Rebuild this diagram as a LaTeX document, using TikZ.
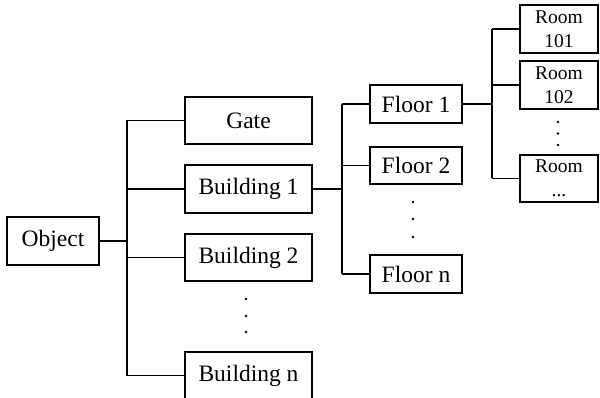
\documentclass[tikz,border=0pt]{standalone}
\usepackage{fontspec}
\setmainfont{Liberation Serif}
\begin{document}
\begin{tikzpicture}[x=1pt,y=-1pt,
  box/.style={draw,line width=1.4pt,rectangle,inner sep=0pt,font=\fontsize{23.5}{28}\selectfont},
  roombox/.style={draw,line width=1.4pt,rectangle,inner sep=0pt,align=center,font=\fontsize{19.5}{24}\selectfont,minimum width=78pt,minimum height=48pt},
  link/.style={line width=1.4pt},
  mainlink/.style={line width=2.4pt},
  dot/.style={fill=black}]
\useasboundingbox (0,0) rectangle (600,398);
% nodes
\node[box,minimum width=92pt,minimum height=48pt] (obj) at (53,241) {Object};
\node[box,minimum width=127pt,minimum height=47pt] (gate) at (248.5,120.5) {Gate};
\node[box,minimum width=127pt,minimum height=48pt] (b1) at (248.5,189) {Building 1};
\node[box,minimum width=127pt,minimum height=47pt] (b2) at (248.5,257.5) {Building 2};
\node[box,minimum width=127pt,minimum height=47pt] (bn) at (248.5,375.5) {Building n};
\node[box,minimum width=92pt,minimum height=38pt] (f1) at (416,104) {Floor 1};
\node[box,minimum width=92pt,minimum height=37pt] (f2) at (416,165.5) {Floor 2};
\node[box,minimum width=92pt,minimum height=38pt] (fn) at (416,274) {Floor n};
\node[roombox] (r1) at (559,29) {Room\\101};
\node[roombox] (r2) at (559,85) {Room\\102};
\node[roombox,minimum height=47pt] (rx) at (559,178.5) {Room\\...};
% trunk coordinates
\coordinate (t1) at (127,0);
\coordinate (t2) at (342,0);
\coordinate (t3) at (492,0);
% level 1
\draw[mainlink] (obj.east) -- (obj.east -| t1);
\draw[link] (t1 |- gate.west) -- (t1 |- bn.west);
\foreach \n in {gate,b1,b2,bn} \draw[link] (t1 |- \n.west) -- (\n.west);
% level 2
\draw[mainlink] (b1.east) -- (b1.east -| t2);
\draw[link] (t2 |- f1.west) -- (t2 |- fn.west);
\foreach \n in {f1,f2,fn} \draw[link] (t2 |- \n.west) -- (\n.west);
% level 3
\draw[mainlink] (f1.east) -- (f1.east -| t3);
\draw[link] (t3 |- r1.west) -- (t3 |- rx.west);
\foreach \n in {r1,r2,rx} \draw[link] (t3 |- \n.west) -- (\n.west);
% ellipsis dots
\foreach \y in {299,316,332} \fill[dot] (246,\y) circle (1.3pt);
\foreach \y in {202,219,237} \fill[dot] (413,\y) circle (1.3pt);
\foreach \y in {122,133.5,145} \fill[dot] (558,\y) circle (1.3pt);
\end{tikzpicture}
\end{document}
